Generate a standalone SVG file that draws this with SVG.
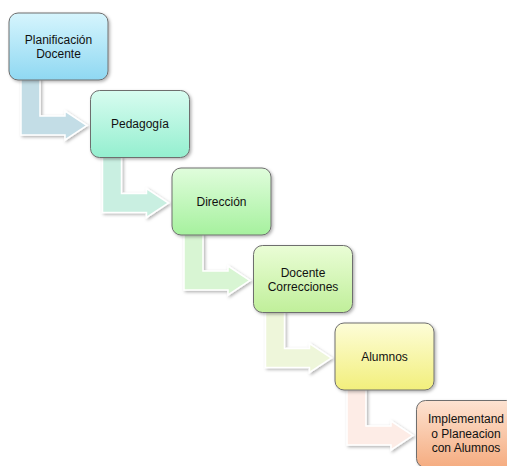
<svg xmlns="http://www.w3.org/2000/svg" width="507" height="466" viewBox="0 0 507 466">
<defs>
<filter id="sh" x="-20%" y="-20%" width="140%" height="140%">
<feDropShadow dx="1.5" dy="1.5" stdDeviation="1.5" flood-color="#000" flood-opacity="0.3"/>
</filter>
<linearGradient id="g1" x1="0" y1="0" x2="0" y2="1"><stop offset="0" stop-color="#d6f5fd"/><stop offset="1" stop-color="#8fd8f2"/></linearGradient>
<linearGradient id="g2" x1="0" y1="0" x2="0" y2="1"><stop offset="0" stop-color="#d8fcf0"/><stop offset="1" stop-color="#94efcf"/></linearGradient>
<linearGradient id="g3" x1="0" y1="0" x2="0" y2="1"><stop offset="0" stop-color="#e0fddc"/><stop offset="1" stop-color="#a6f19e"/></linearGradient>
<linearGradient id="g4" x1="0" y1="0" x2="0" y2="1"><stop offset="0" stop-color="#eafdd6"/><stop offset="1" stop-color="#c0ef9a"/></linearGradient>
<linearGradient id="g5" x1="0" y1="0" x2="0" y2="1"><stop offset="0" stop-color="#fdfdd8"/><stop offset="1" stop-color="#f2ef7c"/></linearGradient>
<linearGradient id="g6" x1="0" y1="0" x2="0" y2="1"><stop offset="0" stop-color="#fde3d2"/><stop offset="1" stop-color="#f5ac80"/></linearGradient>
</defs>
<style>
.box{stroke:#6e6e6e;stroke-width:1;filter:url(#sh)}
.arr{stroke:#ffffff;stroke-width:1.5;stroke-linejoin:miter;filter:url(#sh)}
text{font-family:"Liberation Sans",Arial,sans-serif;font-size:12px;fill:#111;text-anchor:middle}
</style>
<g id="connectors">
<path class="arr" fill="#c3dde6" d="M21,79 L40,79 L40,116 L65,116 L65,111 L87,125.5 L65,140 L65,135 L21,135 Z"/>
<path class="arr" fill="#c9efe1" d="M102.5,156.5 L121.5,156.5 L121.5,193.5 L146.5,193.5 L146.5,188.5 L168.5,203 L146.5,217.5 L146.5,212.5 L102.5,212.5 Z"/>
<path class="arr" fill="#d8f5d3" d="M184,234 L203,234 L203,271 L228,271 L228,266 L250,280.5 L228,295 L228,290 L184,290 Z"/>
<path class="arr" fill="#eef6da" d="M265.5,311.5 L284.5,311.5 L284.5,348.5 L309.5,348.5 L309.5,343.5 L331.5,358 L309.5,372.5 L309.5,367.5 L265.5,367.5 Z"/>
<path class="arr" fill="#fdece6" d="M347,389 L366,389 L366,426 L391,426 L391,421 L413,435.5 L391,450 L391,445 L347,445 Z"/>
</g>
<g id="n1">
<rect class="box" x="9" y="13" width="99" height="67" rx="9" fill="url(#g1)"/>
<text x="58.5" y="44">Planificación</text>
<text x="58.5" y="58">Docente</text>
</g>
<g id="n2">
<rect class="box" x="90.5" y="90.5" width="99" height="67" rx="9" fill="url(#g2)"/>
<text x="140" y="128">Pedagogía</text>
</g>
<g id="n3">
<rect class="box" x="172" y="168" width="99" height="67" rx="9" fill="url(#g3)"/>
<text x="221.5" y="205.5">Dirección</text>
</g>
<g id="n4">
<rect class="box" x="253.5" y="245.5" width="99" height="67" rx="9" fill="url(#g4)"/>
<text x="303" y="276.5">Docente</text>
<text x="303" y="290.5">Correcciones</text>
</g>
<g id="n5">
<rect class="box" x="335" y="323" width="99" height="67" rx="9" fill="url(#g5)"/>
<text x="384.5" y="360.5">Alumnos</text>
</g>
<g id="n6">
<rect class="box" x="416.5" y="400.5" width="99" height="67" rx="9" fill="url(#g6)"/>
<text x="466" y="423">Implementand</text>
<text x="466" y="437.5">o Planeacion</text>
<text x="466" y="452">con Alumnos</text>
</g>
</svg>
